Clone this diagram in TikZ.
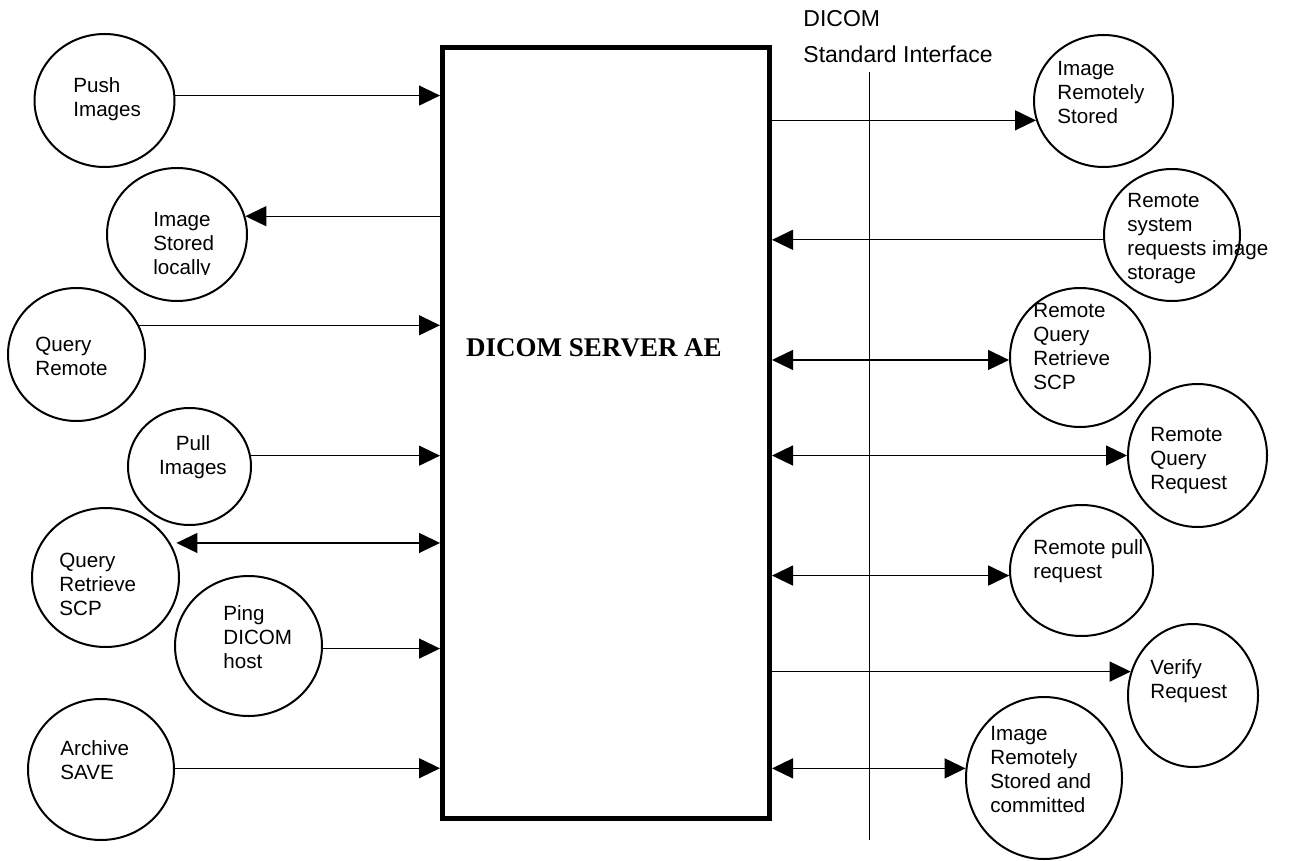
\documentclass[tikz,border=0pt]{standalone}
\usepackage{fontspec}
\setmainfont{Liberation Sans}
\newfontfamily\serverfont{Liberation Serif}
\usepackage{tikz}
\usetikzlibrary{positioning, shapes.geometric, arrows.meta}

\begin{document}
\begin{tikzpicture}
        [x=0.5pt, y=-0.5pt,
            circ/.style={draw, ellipse, line width=1pt, inner sep=0pt},
            lbl/.style={align=left, anchor=west, inner sep=0pt, font=\fontsize{10.3}{12}\selectfont},
            arr/.style={-{Triangle[length=10.5pt, width=10pt]}, line width=0.65pt},
            darr/.style={{Triangle[length=10.5pt, width=10pt]}-{Triangle[length=10.5pt, width=10pt]}, line width=0.65pt}
        ]
        \useasboundingbox (0,0) rectangle (1295,861);
        % the server application entity
        \node (box) [draw, line width=2.5pt, minimum width=163.5pt, minimum height=385.5pt] at (606,433) {};
        \node (boxlbl) [inner sep=0pt, font=\serverfont\bfseries\fontsize{13.5}{16}\selectfont] at (594,348) {DICOM SERVER AE};
        % interface line
        \node (dicomlbl) [inner sep=0pt, anchor=west, font=\fontsize{11.5}{14}\selectfont] at (803,19) {DICOM};
        \node (stdlbl) [inner sep=0pt, anchor=west, font=\fontsize{11.5}{14}\selectfont] at (803,54) {Standard Interface};
        \coordinate (stdtop) at (869,72);
        \coordinate (stdbot) at (869,840);
        \draw[line width=0.5pt] (stdtop) -- (stdbot);
        % local side
        \node (push) [circ, minimum width=70pt, minimum height=66.5pt] at (104.5,100.5) {};
        \node (pushT) [lbl] at (73,99) {Push\\Images};
        \node (stored) [circ, minimum width=70pt, minimum height=66.5pt] at (177,234.5) {};
        \begin{scope}
            \clip (130,160) rectangle (260,275);
            \node (storedT) [lbl] at (153,246) {Image\\Stored\\locally};
        \end{scope}
        \node (qremote) [circ, minimum width=68.5pt, minimum height=66.5pt] at (76.5,354.5) {};
        \node (qremoteT) [lbl] at (35,356.5) {Query\\Remote};
        \node (pull) [circ, minimum width=61.5pt, minimum height=58.5pt] at (189.5,466.5) {};
        \node (pullT) [lbl, align=center, anchor=center] at (193,457.5) {Pull\\Images};
        \node (qrscp) [circ, minimum width=73.5pt, minimum height=69.5pt] at (105.5,577.5) {};
        \node (qrscpT) [lbl] at (59,584) {Query\\Retrieve\\SCP};
        \node (ping) [circ, minimum width=73.5pt, minimum height=70pt] at (248.5,646) {};
        \node (pingT) [lbl] at (223,637) {Ping\\DICOM\\host};
        \node (archive) [circ, minimum width=73pt, minimum height=70.5pt] at (101,769.5) {};
        \node (archiveT) [lbl] at (60,760) {Archive\\SAVE};
        % remote side
        \node (irs) [circ, minimum width=69.5pt, minimum height=66pt] at (1103.5,101) {};
        \node (irsT) [lbl] at (1057,93) {Image\\Remotely\\Stored};
        \node (rsreq) [circ, minimum width=68pt, minimum height=66pt] at (1172,235) {};
        \node (rsreqT) [lbl] at (1127,238.5) {Remote\\system\\requests image\\storage};
        \node (rqrscp) [circ, minimum width=70pt, minimum height=69.5pt] at (1080,357.5) {};
        \node (rqrscpT) [lbl] at (1033,346.5) {Remote\\Query\\Retrieve\\SCP};
        \node (rqreq) [circ, minimum width=69.5pt, minimum height=71.5pt] at (1197.5,455.5) {};
        \node (rqreqT) [lbl] at (1150,461) {Remote\\Query\\Request};
        \node (rpull) [circ, minimum width=71.5pt, minimum height=65.5pt] at (1081.5,570.5) {};
        \node (rpullT) [lbl] at (1033,561) {Remote pull\\request};
        \node (verify) [circ, minimum width=65pt, minimum height=71.5pt] at (1193,695.5) {};
        \node (verifyT) [lbl] at (1150,681) {Verify\\Request};
        \node (commit) [circ, minimum width=78pt, minimum height=81pt] at (1044,778) {};
        \node (commitT) [lbl] at (990,770) {Image\\Remotely\\Stored and\\committed};
        % connectors, local side
        \draw[arr] (push.4) -- (push.4 -| box.west);
        \draw[arr] (box.west |- stored.15) -- (stored.15);
        \draw[arr] (qremote.25) -- (qremote.25 -| box.west);
        \draw[arr] (pull.10) -- (pull.10 -| box.west);
        \draw[darr, shorten >=3pt] (box.west |- qrscp.28) -- (qrscp.28);
        \draw[arr] (ping.-2) -- (ping.-2 -| box.west);
        \draw[arr] (archive.1) -- (archive.1 -| box.west);
        % connectors, remote side
        \draw[arr] (box.east |- irs.196) -- (irs.196);
        \draw[arr] (rsreq.184) -- (rsreq.184 -| box.east);
        \draw[darr] (box.east |- rqrscp.182) -- (rqrscp.182);
        \draw[darr] (box.east |- rqreq.west) -- (rqreq.west);
        \draw[darr] (box.east |- rpull.184) -- (rpull.184);
        \draw[arr] (box.east |- verify.159) -- (verify.159);
        \draw[darr] (box.east |- commit.173) -- (commit.173);
    \end{tikzpicture}
\end{document}
